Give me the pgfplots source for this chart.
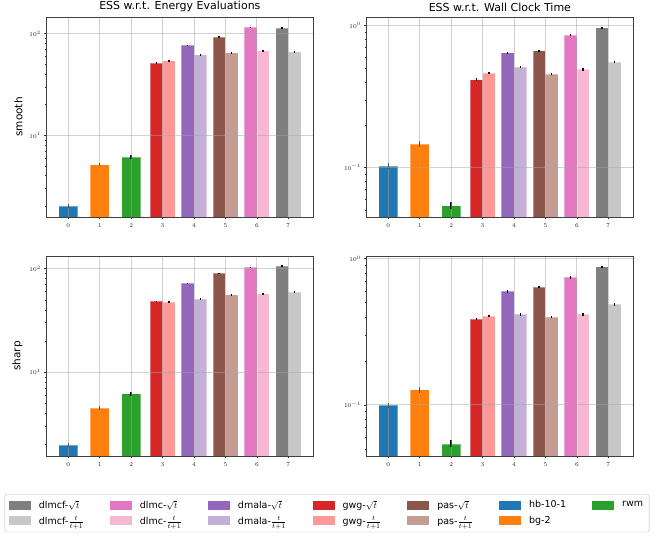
\documentclass[border=0pt]{standalone}
\usepackage{fontspec}
\setmainfont{DejaVu Sans}
\usepackage{pgfplots}
\pgfplotsset{compat=1.18}
\definecolor{tblue}{HTML}{1F77B4}
\definecolor{torange}{HTML}{FF7F0E}
\definecolor{tgreen}{HTML}{2CA02C}
\definecolor{tred}{HTML}{D62728}
\definecolor{tlred}{HTML}{FF9896}
\definecolor{tpurple}{HTML}{9467BD}
\definecolor{tlpurple}{HTML}{C5B0D5}
\definecolor{tbrown}{HTML}{8C564B}
\definecolor{tlbrown}{HTML}{C49C94}
\definecolor{tpink}{HTML}{E377C2}
\definecolor{tlpink}{HTML}{F7B6D2}
\definecolor{tgray}{HTML}{7F7F7F}
\definecolor{tlgray}{HTML}{C7C7C7}
\newcommand{\fr}{{\fontsize{10.5}{11}\selectfont$\frac{t}{t+1}$}}
\pgfplotsset{
  essax/.style={scale only axis, width=266.3pt, height=200pt,
    xmin=-0.685, xmax=7.785, xtick={0,1,2,3,4,5,6,7},
    grid=major, major grid style={color=black!35, opacity=0.5, line width=0.8pt},
    axis on top, tick align=outside, tick pos=left, major tick length=2.5pt, minor tick length=1.6pt,
    tick style={black!80, line width=0.5pt},
    axis line style={black!75, line width=0.8pt},
    ticklabel style={font=\fontsize{6.3}{7}\selectfont, text=black!85},
    xticklabel style={yshift=-1pt},
    ylabel style={font=\fontsize{10.5}{12}\selectfont},
    every axis title shift=0pt,
    title style={font=\fontsize{11}{13}\selectfont, at={(0.5,1)}, anchor=south, yshift=1.5pt}},
  essbar/.style={ybar, bar shift=0pt, draw=white, draw opacity=0.35, line width=0.7pt,
    error bars/y dir=both, error bars/y explicit relative, error bars/error mark=none,
    error bars/error bar style={black, line width=1.4pt, opacity=1}},
}
\begin{document}
\begin{tikzpicture}
\path[use as bounding box] (0pt,0pt) rectangle (654pt,539pt);
% ---------------- top left
\begin{axis}[ymode=log, log origin=infty, essax, at={(46.7pt,322pt)}, anchor=south west, ymin=1.57, ymax=146,
  title={ESS w.r.t. Energy Evaluations}, ylabel={smooth}]
\addplot[fill=tblue, bar width=0.6, essbar] coordinates {(0,2.0) +- (0,0.045)};
\addplot[fill=torange, bar width=0.6, essbar] coordinates {(1,5.14) +- (0,0.04)};
\addplot[fill=tgreen, bar width=0.6, essbar] coordinates {(2,6.11) +- (0,0.04)};
\addplot[fill=tred, bar width=0.4, essbar] coordinates {(2.8,51.4) +- (0,0.018)};
\addplot[fill=tlred, bar width=0.4, essbar] coordinates {(3.2,54.2) +- (0,0.018)};
\addplot[fill=tpurple, bar width=0.4, essbar] coordinates {(3.8,76.7) +- (0,0.018)};
\addplot[fill=tlpurple, bar width=0.4, essbar] coordinates {(4.2,62.1) +- (0,0.018)};
\addplot[fill=tbrown, bar width=0.4, essbar] coordinates {(4.8,92.7) +- (0,0.018)};
\addplot[fill=tlbrown, bar width=0.4, essbar] coordinates {(5.2,64.9) +- (0,0.018)};
\addplot[fill=tpink, bar width=0.4, essbar] coordinates {(5.8,115.5) +- (0,0.018)};
\addplot[fill=tlpink, bar width=0.4, essbar] coordinates {(6.2,67.9) +- (0,0.018)};
\addplot[fill=tgray, bar width=0.4, essbar] coordinates {(6.8,113.7) +- (0,0.018)};
\addplot[fill=tlgray, bar width=0.4, essbar] coordinates {(7.2,66.4) +- (0,0.018)};
\end{axis}
% ---------------- top right
\begin{axis}[ymode=log, log origin=infty, essax, at={(366.7pt,322pt)}, anchor=south west, ymin=0.0448, ymax=1.15,
  title={ESS w.r.t. Wall Clock Time}]
\addplot[fill=tblue, bar width=0.6, essbar] coordinates {(0,0.1027) +- (0,0.045)};
\addplot[fill=torange, bar width=0.6, essbar] coordinates {(1,0.146) +- (0,0.045)};
\addplot[fill=tgreen, bar width=0.6, essbar] coordinates {(2,0.0538) +- (0,0.055)};
\addplot[fill=tred, bar width=0.4, essbar] coordinates {(2.8,0.417) +- (0,0.018)};
\addplot[fill=tlred, bar width=0.4, essbar] coordinates {(3.2,0.463) +- (0,0.018)};
\addplot[fill=tpurple, bar width=0.4, essbar] coordinates {(3.8,0.644) +- (0,0.018)};
\addplot[fill=tlpurple, bar width=0.4, essbar] coordinates {(4.2,0.510) +- (0,0.018)};
\addplot[fill=tbrown, bar width=0.4, essbar] coordinates {(4.8,0.665) +- (0,0.018)};
\addplot[fill=tlbrown, bar width=0.4, essbar] coordinates {(5.2,0.455) +- (0,0.018)};
\addplot[fill=tpink, bar width=0.4, essbar] coordinates {(5.8,0.854) +- (0,0.018)};
\addplot[fill=tlpink, bar width=0.4, essbar] coordinates {(6.2,0.491) +- (0,0.018)};
\addplot[fill=tgray, bar width=0.4, essbar] coordinates {(6.8,0.968) +- (0,0.018)};
\addplot[fill=tlgray, bar width=0.4, essbar] coordinates {(7.2,0.551) +- (0,0.018)};
\end{axis}
% ---------------- bottom left
\begin{axis}[ymode=log, log origin=infty, essax, at={(46.7pt,83pt)}, anchor=south west, ymin=1.54, ymax=132.7,
  ylabel={sharp},
  legend columns=7,
  legend style={at={(1.0526,-0.2857)}, anchor=center, draw=black!25, rounded corners=2pt,
    fill=white, font=\fontsize{9.5}{11}\selectfont, inner xsep=4pt, inner ysep=4pt,
    row sep=2pt,
    /tikz/every odd column/.append style={column sep=6pt},
    /tikz/every even column/.append style={column sep=24pt}},
  legend cell align=left,
  legend image code/.code={\fill[#1, sharp corners, draw=none] (0pt,-4.5pt) rectangle (22pt,4.5pt);}]
\addplot[fill=tblue, bar width=0.6, essbar, forget plot] coordinates {(0,1.95) +- (0,0.045)};
\addplot[fill=torange, bar width=0.6, essbar, forget plot] coordinates {(1,4.47) +- (0,0.04)};
\addplot[fill=tgreen, bar width=0.6, essbar, forget plot] coordinates {(2,6.16) +- (0,0.04)};
\addplot[fill=tred, bar width=0.4, essbar, forget plot] coordinates {(2.8,48.2) +- (0,0.018)};
\addplot[fill=tlred, bar width=0.4, essbar, forget plot] coordinates {(3.2,47.7) +- (0,0.018)};
\addplot[fill=tpurple, bar width=0.4, essbar, forget plot] coordinates {(3.8,72.1) +- (0,0.018)};
\addplot[fill=tlpurple, bar width=0.4, essbar, forget plot] coordinates {(4.2,50.8) +- (0,0.018)};
\addplot[fill=tbrown, bar width=0.4, essbar, forget plot] coordinates {(4.8,90.1) +- (0,0.018)};
\addplot[fill=tlbrown, bar width=0.4, essbar, forget plot] coordinates {(5.2,55.9) +- (0,0.018)};
\addplot[fill=tpink, bar width=0.4, essbar, forget plot] coordinates {(5.8,103) +- (0,0.018)};
\addplot[fill=tlpink, bar width=0.4, essbar, forget plot] coordinates {(6.2,57.2) +- (0,0.018)};
\addplot[fill=tgray, bar width=0.4, essbar, forget plot] coordinates {(6.8,106) +- (0,0.018)};
\addplot[fill=tlgray, bar width=0.4, essbar, forget plot] coordinates {(7.2,59.3) +- (0,0.018)};
\addlegendimage{fill=tgray}\addlegendentry{dlmcf-$\sqrt{t}$}
\addlegendimage{fill=tpink}\addlegendentry{dlmc-$\sqrt{t}$}
\addlegendimage{fill=tpurple}\addlegendentry{dmala-$\sqrt{t}$}
\addlegendimage{fill=tred}\addlegendentry{gwg-$\sqrt{t}$}
\addlegendimage{fill=tbrown}\addlegendentry{pas-$\sqrt{t}$}
\addlegendimage{fill=tblue}\addlegendentry{hb-10-1}
\addlegendimage{fill=tgreen}\addlegendentry{rwm}
\addlegendimage{fill=tlgray}\addlegendentry{dlmcf-\fr}
\addlegendimage{fill=tlpink}\addlegendentry{dlmc-\fr}
\addlegendimage{fill=tlpurple}\addlegendentry{dmala-\fr}
\addlegendimage{fill=tlred}\addlegendentry{gwg-\fr}
\addlegendimage{fill=tlbrown}\addlegendentry{pas-\fr}
\addlegendimage{fill=torange}\addlegendentry{bg-2}
\end{axis}
% ---------------- bottom right
\begin{axis}[ymode=log, log origin=infty, essax, at={(366.7pt,83pt)}, anchor=south west, ymin=0.0446, ymax=1.043]
\addplot[fill=tblue, bar width=0.6, essbar] coordinates {(0,0.0990) +- (0,0.045)};
\addplot[fill=torange, bar width=0.6, essbar] coordinates {(1,0.1268) +- (0,0.045)};
\addplot[fill=tgreen, bar width=0.6, essbar] coordinates {(2,0.0540) +- (0,0.055)};
\addplot[fill=tred, bar width=0.4, essbar] coordinates {(2.8,0.387) +- (0,0.018)};
\addplot[fill=tlred, bar width=0.4, essbar] coordinates {(3.2,0.404) +- (0,0.018)};
\addplot[fill=tpurple, bar width=0.4, essbar] coordinates {(3.8,0.597) +- (0,0.018)};
\addplot[fill=tlpurple, bar width=0.4, essbar] coordinates {(4.2,0.415) +- (0,0.018)};
\addplot[fill=tbrown, bar width=0.4, essbar] coordinates {(4.8,0.639) +- (0,0.018)};
\addplot[fill=tlbrown, bar width=0.4, essbar] coordinates {(5.2,0.398) +- (0,0.018)};
\addplot[fill=tpink, bar width=0.4, essbar] coordinates {(5.8,0.744) +- (0,0.018)};
\addplot[fill=tlpink, bar width=0.4, essbar] coordinates {(6.2,0.415) +- (0,0.018)};
\addplot[fill=tgray, bar width=0.4, essbar] coordinates {(6.8,0.881) +- (0,0.018)};
\addplot[fill=tlgray, bar width=0.4, essbar] coordinates {(7.2,0.486) +- (0,0.018)};
\end{axis}
\end{tikzpicture}
\end{document}
